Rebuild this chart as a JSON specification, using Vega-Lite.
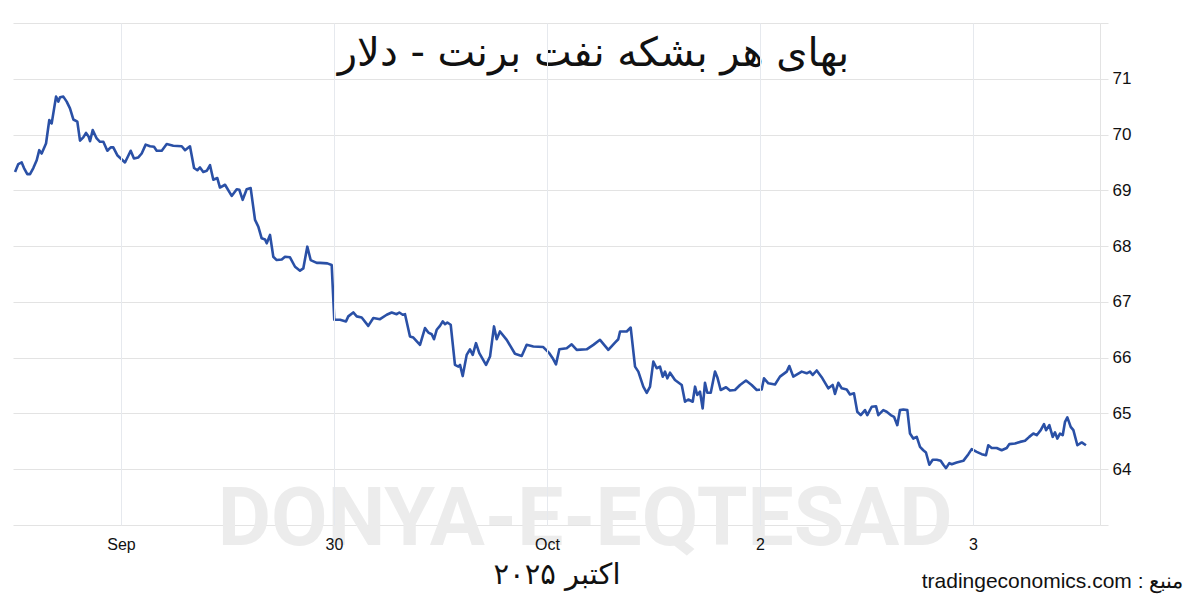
{
 "$schema": "https://vega.github.io/schema/vega-lite/v6.json",
 "width": 1087,
 "height": 502,
 "autosize": {"type": "none"},
 "padding": {"left": 13, "top": 23, "right": 100, "bottom": 85},
 "background": "white",
 "config": {"view": {"stroke": null}},
 "title": {"text": "بهای هر بشکه نفت برنت - دلار", "font": "DejaVu Sans", "fontSize": 40, "fontWeight": "normal", "color": "#111111", "anchor": "middle", "frame": "group", "baseline": "alphabetic", "offset": -83, "dx": 37},
 "layer": [
  {
   "data": {"values": [{}]},
   "mark": {"type": "text", "font": "Roboto", "fontWeight": "bold", "fontSize": 82, "color": "#ececec", "align": "center", "baseline": "alphabetic"},
   "encoding": {"x": {"datum": 52.3, "type": "quantitative"}, "y": {"datum": 62.64, "type": "quantitative"}, "text": {"value": "DONYA-E-EQTESAD"}}
  },
  {
   "data": {"values": [
{"t":-11.94,"p":69.33},{"t":-11.57,"p":69.47},{"t":-11.19,"p":69.50},{"t":-10.93,"p":69.40},{"t":-10.56,"p":69.29},{"t":-10.25,"p":69.29},{"t":-9.88,"p":69.40},{"t":-9.50,"p":69.54},{"t":-9.21,"p":69.72},{"t":-8.94,"p":69.66},{"t":-8.45,"p":69.84},{"t":-8.08,"p":70.26},{"t":-7.81,"p":70.20},{"t":-7.32,"p":70.68},{"t":-7.06,"p":70.59},{"t":-6.87,"p":70.67},{"t":-6.50,"p":70.68},{"t":-6.12,"p":70.59},{"t":-5.75,"p":70.47},{"t":-5.37,"p":70.27},{"t":-4.92,"p":70.23},{"t":-4.62,"p":69.89},{"t":-4.25,"p":69.95},{"t":-3.94,"p":70.03},{"t":-3.64,"p":69.96},{"t":-3.49,"p":69.88},{"t":-3.19,"p":70.08},{"t":-2.74,"p":69.93},{"t":-2.37,"p":69.87},{"t":-1.99,"p":69.87},{"t":-1.54,"p":69.71},{"t":-1.16,"p":69.77},{"t":-0.87,"p":69.77},{"t":-0.42,"p":69.63},{"t":0.45,"p":69.50},{"t":1.09,"p":69.71},{"t":1.46,"p":69.57},{"t":1.95,"p":69.59},{"t":2.33,"p":69.66},{"t":2.78,"p":69.82},{"t":3.27,"p":69.79},{"t":3.72,"p":69.78},{"t":4.02,"p":69.71},{"t":4.59,"p":69.71},{"t":5.15,"p":69.83},{"t":5.89,"p":69.80},{"t":6.84,"p":69.79},{"t":7.21,"p":69.72},{"t":7.77,"p":69.79},{"t":8.23,"p":69.40},{"t":8.60,"p":69.36},{"t":8.90,"p":69.41},{"t":9.27,"p":69.33},{"t":9.66,"p":69.35},{"t":10.03,"p":69.45},{"t":10.40,"p":69.19},{"t":10.85,"p":69.22},{"t":11.15,"p":69.05},{"t":11.72,"p":69.10},{"t":12.47,"p":68.90},{"t":13.04,"p":69.02},{"t":13.33,"p":69.01},{"t":13.71,"p":68.83},{"t":14.16,"p":69.02},{"t":14.61,"p":69.04},{"t":15.10,"p":68.47},{"t":15.47,"p":68.35},{"t":15.85,"p":68.14},{"t":16.23,"p":68.12},{"t":16.42,"p":68.05},{"t":16.79,"p":68.20},{"t":17.16,"p":67.81},{"t":17.54,"p":67.75},{"t":18.11,"p":67.76},{"t":18.48,"p":67.81},{"t":19.04,"p":67.80},{"t":19.61,"p":67.63},{"t":20.17,"p":67.56},{"t":20.54,"p":67.60},{"t":20.99,"p":67.99},{"t":21.37,"p":67.75},{"t":22.05,"p":67.70},{"t":22.42,"p":67.70},{"t":23.25,"p":67.69},{"t":23.74,"p":67.66},{"t":24.03,"p":66.68},{"t":24.68,"p":66.68},{"t":25.35,"p":66.65},{"t":25.61,"p":66.74},{"t":26.17,"p":66.81},{"t":26.56,"p":66.74},{"t":27.12,"p":66.72},{"t":27.86,"p":66.57},{"t":28.43,"p":66.71},{"t":29.18,"p":66.69},{"t":29.94,"p":66.77},{"t":30.50,"p":66.81},{"t":31.06,"p":66.78},{"t":31.36,"p":66.81},{"t":31.74,"p":66.77},{"t":32.00,"p":66.78},{"t":32.56,"p":66.38},{"t":32.94,"p":66.36},{"t":33.69,"p":66.23},{"t":34.25,"p":66.53},{"t":34.63,"p":66.45},{"t":35.01,"p":66.42},{"t":35.27,"p":66.33},{"t":35.57,"p":66.50},{"t":35.94,"p":66.57},{"t":36.25,"p":66.65},{"t":36.51,"p":66.60},{"t":36.77,"p":66.63},{"t":37.15,"p":66.59},{"t":37.63,"p":65.87},{"t":38.01,"p":65.84},{"t":38.20,"p":65.87},{"t":38.50,"p":65.67},{"t":38.95,"p":66.05},{"t":39.32,"p":66.15},{"t":39.63,"p":66.05},{"t":40.00,"p":66.26},{"t":40.37,"p":66.08},{"t":41.13,"p":65.87},{"t":41.58,"p":66.02},{"t":42.03,"p":66.56},{"t":42.33,"p":66.33},{"t":42.70,"p":66.47},{"t":43.46,"p":66.32},{"t":44.39,"p":66.07},{"t":45.15,"p":66.03},{"t":45.71,"p":66.23},{"t":46.46,"p":66.20},{"t":47.58,"p":66.19},{"t":48.26,"p":66.08},{"t":48.64,"p":65.99},{"t":49.01,"p":65.88},{"t":49.39,"p":66.15},{"t":50.22,"p":66.17},{"t":50.78,"p":66.24},{"t":51.35,"p":66.14},{"t":52.47,"p":66.15},{"t":53.22,"p":66.23},{"t":53.97,"p":66.32},{"t":54.91,"p":66.14},{"t":55.66,"p":66.27},{"t":56.03,"p":66.33},{"t":56.23,"p":66.47},{"t":56.98,"p":66.47},{"t":57.43,"p":66.54},{"t":57.92,"p":65.84},{"t":58.29,"p":65.75},{"t":58.85,"p":65.48},{"t":59.24,"p":65.37},{"t":59.61,"p":65.48},{"t":59.98,"p":65.93},{"t":60.36,"p":65.81},{"t":60.73,"p":65.84},{"t":61.04,"p":65.66},{"t":61.30,"p":65.75},{"t":61.56,"p":65.63},{"t":61.86,"p":65.73},{"t":62.42,"p":65.60},{"t":63.18,"p":65.51},{"t":63.55,"p":65.21},{"t":63.92,"p":65.25},{"t":64.42,"p":65.21},{"t":64.68,"p":65.48},{"t":64.93,"p":65.33},{"t":65.24,"p":65.39},{"t":65.54,"p":65.09},{"t":65.80,"p":65.55},{"t":66.06,"p":65.37},{"t":66.45,"p":65.37},{"t":66.93,"p":65.75},{"t":67.19,"p":65.65},{"t":67.57,"p":65.42},{"t":68.17,"p":65.47},{"t":68.62,"p":65.41},{"t":69.18,"p":65.42},{"t":69.75,"p":65.51},{"t":70.42,"p":65.59},{"t":71.06,"p":65.51},{"t":71.63,"p":65.42},{"t":72.19,"p":65.43},{"t":72.45,"p":65.63},{"t":72.94,"p":65.54},{"t":73.69,"p":65.52},{"t":74.25,"p":65.66},{"t":75.01,"p":65.75},{"t":75.30,"p":65.85},{"t":75.75,"p":65.66},{"t":76.70,"p":65.75},{"t":77.26,"p":65.72},{"t":77.63,"p":65.75},{"t":77.94,"p":65.69},{"t":78.39,"p":65.77},{"t":78.95,"p":65.65},{"t":79.70,"p":65.45},{"t":80.19,"p":65.51},{"t":80.45,"p":65.35},{"t":80.82,"p":65.55},{"t":81.21,"p":65.45},{"t":81.77,"p":65.43},{"t":82.14,"p":65.34},{"t":82.59,"p":65.36},{"t":82.96,"p":65.03},{"t":83.35,"p":64.97},{"t":83.83,"p":65.06},{"t":84.09,"p":64.97},{"t":84.59,"p":65.12},{"t":85.07,"p":65.13},{"t":85.33,"p":64.97},{"t":85.89,"p":65.06},{"t":86.27,"p":65.03},{"t":86.73,"p":64.97},{"t":87.10,"p":64.94},{"t":87.47,"p":64.79},{"t":87.77,"p":65.06},{"t":88.15,"p":65.07},{"t":88.60,"p":65.06},{"t":88.90,"p":64.64},{"t":89.27,"p":64.55},{"t":89.66,"p":64.58},{"t":90.03,"p":64.40},{"t":90.40,"p":64.34},{"t":90.70,"p":64.30},{"t":91.08,"p":64.08},{"t":91.46,"p":64.17},{"t":91.91,"p":64.17},{"t":92.36,"p":64.15},{"t":92.66,"p":64.08},{"t":92.96,"p":64.02},{"t":93.33,"p":64.11},{"t":93.60,"p":64.09},{"t":94.16,"p":64.12},{"t":94.91,"p":64.15},{"t":95.48,"p":64.27},{"t":95.85,"p":64.36},{"t":96.42,"p":64.31},{"t":96.98,"p":64.27},{"t":97.46,"p":64.25},{"t":97.72,"p":64.43},{"t":98.11,"p":64.38},{"t":98.67,"p":64.38},{"t":99.23,"p":64.34},{"t":99.80,"p":64.38},{"t":100.09,"p":64.45},{"t":100.73,"p":64.46},{"t":101.30,"p":64.49},{"t":101.86,"p":64.51},{"t":102.34,"p":64.58},{"t":102.80,"p":64.64},{"t":103.18,"p":64.61},{"t":103.63,"p":64.70},{"t":104.00,"p":64.81},{"t":104.23,"p":64.70},{"t":104.60,"p":64.79},{"t":104.98,"p":64.58},{"t":105.24,"p":64.66},{"t":105.50,"p":64.55},{"t":105.80,"p":64.64},{"t":106.11,"p":64.61},{"t":106.37,"p":64.85},{"t":106.63,"p":64.93},{"t":107.01,"p":64.76},{"t":107.31,"p":64.70},{"t":107.76,"p":64.43},{"t":108.25,"p":64.48},{"t":108.73,"p":64.43}
   ]},
   "mark": {"type": "line", "color": "#2a50a6", "strokeWidth": 2.6, "strokeJoin": "round"},
   "encoding": {
    "x": {"field": "t", "type": "quantitative", "scale": {"domain": [-12.17, 110.31], "nice": false, "zero": false},
     "axis": {"values": [0, 24, 48, 72, 96], "labelExpr": "datum.value == 0 ? 'Sep' : datum.value == 24 ? '30' : datum.value == 48 ? 'Oct' : datum.value == 72 ? '2' : '3'",
      "grid": true, "gridColor": "#e6e9ee", "gridWidth": 1, "domain": false, "ticks": false, "zindex": 1,
      "labelFont": "Liberation Sans", "labelFontSize": 16, "labelColor": "#111111", "labelPadding": 11,
      "title": "اکتبر ۲۰۲۵", "titleFont": "DejaVu Sans", "titleFontSize": 29, "titleFontWeight": "normal", "titleColor": "#111111", "titlePadding": 8}},
    "y": {"field": "p", "type": "quantitative", "scale": {"domain": [63, 72], "nice": false, "zero": false},
     "axis": {"orient": "right", "values": [63, 64, 65, 66, 67, 68, 69, 70, 71, 72], "format": "d", "labelExpr": "datum.value == 63 || datum.value == 72 ? '' : datum.label",
      "grid": true, "gridColor": "#e3e3e3", "gridWidth": 1, "domain": true, "domainColor": "#e3e3e3", "tickColor": "#e3e3e3", "tickSize": 8,
      "labelFont": "Liberation Sans", "labelFontSize": 17, "labelColor": "#111111", "labelPadding": 4, "title": null}}
   }
  },
  {
   "data": {"values": [{}]},
   "mark": {"type": "text", "font": "Liberation Sans", "fontSize": 21, "color": "#111111", "align": "right", "baseline": "alphabetic"},
   "encoding": {"x": {"datum": 119.7, "type": "quantitative"}, "y": {"datum": 61.87, "type": "quantitative"}, "text": {"value": "tradingeconomics.com : منبع"}}
  }
 ]
}
